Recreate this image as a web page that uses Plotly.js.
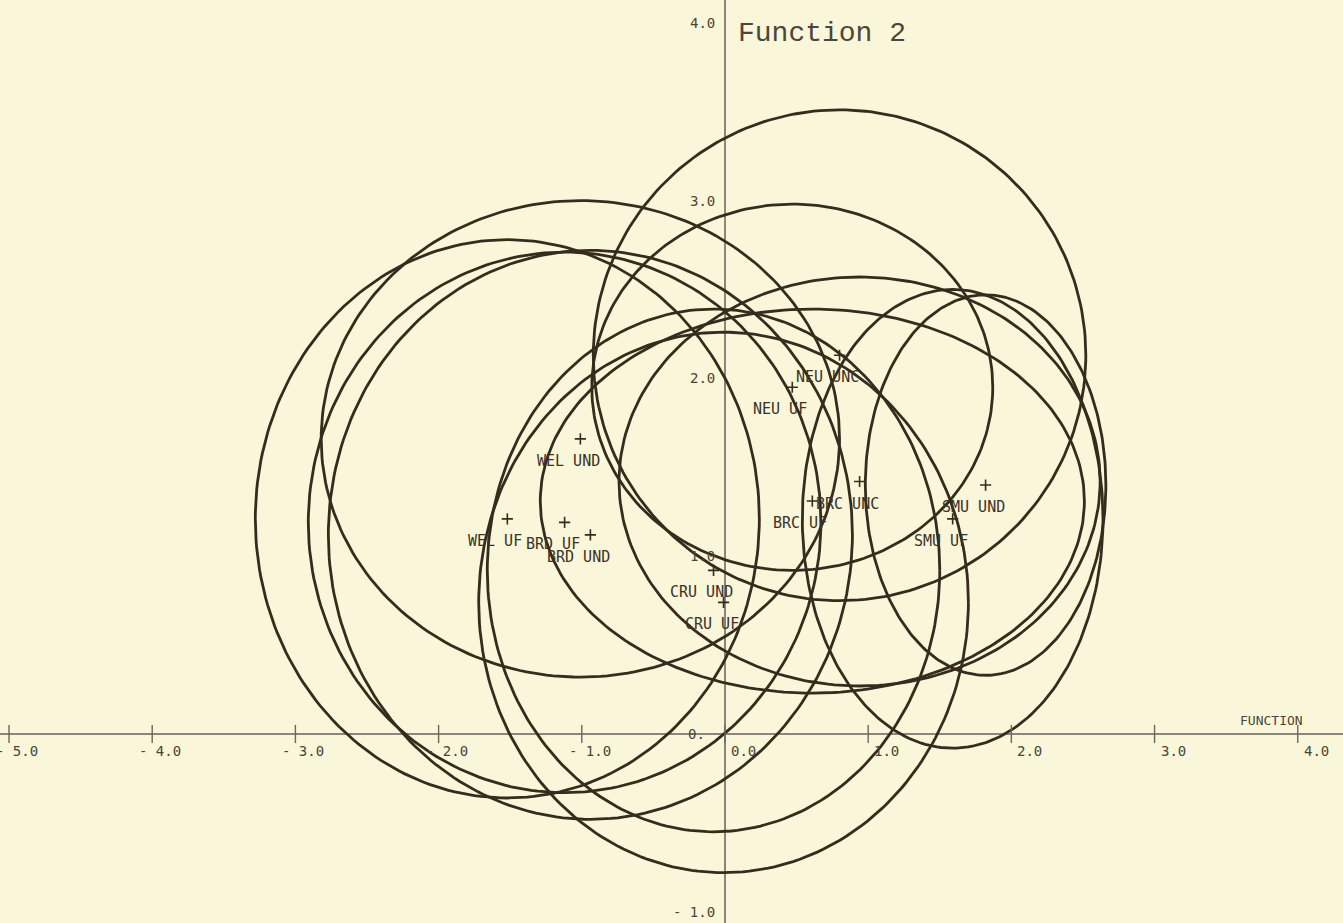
<!DOCTYPE html>
<html>
<head>
<meta charset="utf-8">
<script src="https://cdn.plot.ly/plotly-3.0.1.min.js"></script>
<style>
  html, body { margin: 0; padding: 0; background: #f9f6d9; }
  #plot { width: 1343px; height: 923px; }
</style>
</head>
<body>
<div id="plot"></div>
<script>
// Group centroids on discriminant functions 1 and 2
const groups  = ["WEL UND", "WEL UF", "BRD UF", "BRD UND", "CRU UND", "CRU UF",
                 "NEU UF", "NEU UNC", "BRC UNC", "BRC UF", "SMU UND", "SMU UF"];
const centerX = [-1.01, -1.52, -1.12, -0.94, -0.08, -0.01, 0.47, 0.80, 0.94, 0.61, 1.82, 1.59];
const centerY = [ 1.66,  1.21,  1.19,  1.12,  0.92,  0.74, 1.95, 2.13, 1.42, 1.31, 1.40, 1.21];
// Semi-axes of each group's ellipse (function 1, function 2)
const semiX   = [1.81, 1.76, 1.79, 1.83, 1.58, 1.71, 1.40, 1.72, 1.68, 1.90, 0.84, 1.05];
const semiY   = [1.34, 1.57, 1.52, 1.60, 1.47, 1.52, 1.03, 1.38, 1.15, 1.08, 1.07, 1.29];

// Axis ticks
const xTickVals = [-5, -4, -3, -2, -1, 0, 1, 2, 3, 4];
const xTickText = ["- 5.0", "- 4.0", "- 3.0", "- 2.0", "- 1.0", "0.0", "1.0", "2.0", "3.0", "4.0"];
const yTickVals = [4, 3, 2, 1, 0, -1];
const yTickText = ["4.0", "3.0", "2.0", "1.0", "0.", "- 1.0"];

const ink = "#362c1e";
const axisGrey = "#8a877a";

const traces = [];

// one closed ellipse per group
const steps = 240;
for (let g = 0; g < groups.length; g++) {
  const xs = [], ys = [];
  for (let i = 0; i <= steps; i++) {
    const t = 2 * Math.PI * i / steps;
    xs.push(centerX[g] + semiX[g] * Math.cos(t));
    ys.push(centerY[g] + semiY[g] * Math.sin(t));
  }
  traces.push({
    type: "scatter", mode: "lines", x: xs, y: ys,
    line: { color: ink, width: 2.8 },
    hoverinfo: "skip", showlegend: false
  });
}

// centroid crosses
traces.push({
  type: "scatter", mode: "markers", x: centerX, y: centerY,
  marker: { symbol: "cross-thin", size: 8, line: { color: ink, width: 1.6 } },
  showlegend: false, hoverinfo: "skip"
});

// x-axis tick crosses
traces.push({
  type: "scatter", mode: "markers", x: xTickVals, y: xTickVals.map(() => 0),
  marker: { symbol: "line-ns", size: 13, line: { color: "#6b675a", width: 1.4 } },
  showlegend: false, hoverinfo: "skip"
});

const annotations = [];

groups.forEach((name, g) => {
  annotations.push({
    x: centerX[g], y: centerY[g], xref: "x", yref: "y", text: name,
    showarrow: false, xanchor: "center", yanchor: "middle",
    xshift: -12, yshift: -22,
    font: { family: "DejaVu Sans Mono", size: 15, color: "#3a3326" }
  });
});

xTickVals.forEach((v, i) => {
  const neg = v < 0;
  annotations.push({
    x: v, y: 0, xref: "x", yref: "y", text: xTickText[i],
    showarrow: false, xanchor: "left", yanchor: "middle",
    xshift: neg ? -15 : 4, yshift: -17,
    font: { family: "DejaVu Sans Mono", size: 14, color: "#4a4537" }
  });
});

yTickVals.forEach((v, i) => {
  annotations.push({
    x: 0, y: v, xref: "x", yref: "y", text: yTickText[i],
    showarrow: false, xanchor: "right", yanchor: "middle",
    xshift: v === 0 ? -18 : -8, yshift: 0,
    font: { family: "DejaVu Sans Mono", size: 14, color: "#4a4537" }
  });
});

// axis captions
annotations.push({
  x: 822 / 1343, y: 1 - 33 / 923, xref: "paper", yref: "paper",
  text: "Function 2", showarrow: false, xanchor: "center", yanchor: "middle",
  font: { family: "Liberation Mono", size: 28, color: "#4a463c" }
});
annotations.push({
  x: 4.0, y: 0, xref: "x", yref: "y",
  text: "FUNCTION", showarrow: false, xanchor: "right", yanchor: "middle",
  xshift: 7, yshift: 13,
  font: { family: "DejaVu Sans Mono", size: 13, color: "#4a4537" }
});

const layout = {
  width: 1343, height: 923,
  margin: { l: 0, r: 0, t: 0, b: 0, pad: 0 },
  paper_bgcolor: "#f9f6d9", plot_bgcolor: "#f9f6d9",
  showlegend: false,
  xaxis: {
    range: [-5.063, 4.316], showgrid: false, showticklabels: false, ticks: "",
    zeroline: true, zerolinecolor: axisGrey, zerolinewidth: 1.3, showline: false, fixedrange: true
  },
  yaxis: {
    range: [-1.063, 4.128], showgrid: false, showticklabels: false, ticks: "",
    zeroline: true, zerolinecolor: axisGrey, zerolinewidth: 1.3, showline: false, fixedrange: true
  },
  annotations: annotations
};

Plotly.newPlot("plot", traces, layout, { displayModeBar: false, staticPlot: true });
</script>
</body>
</html>
